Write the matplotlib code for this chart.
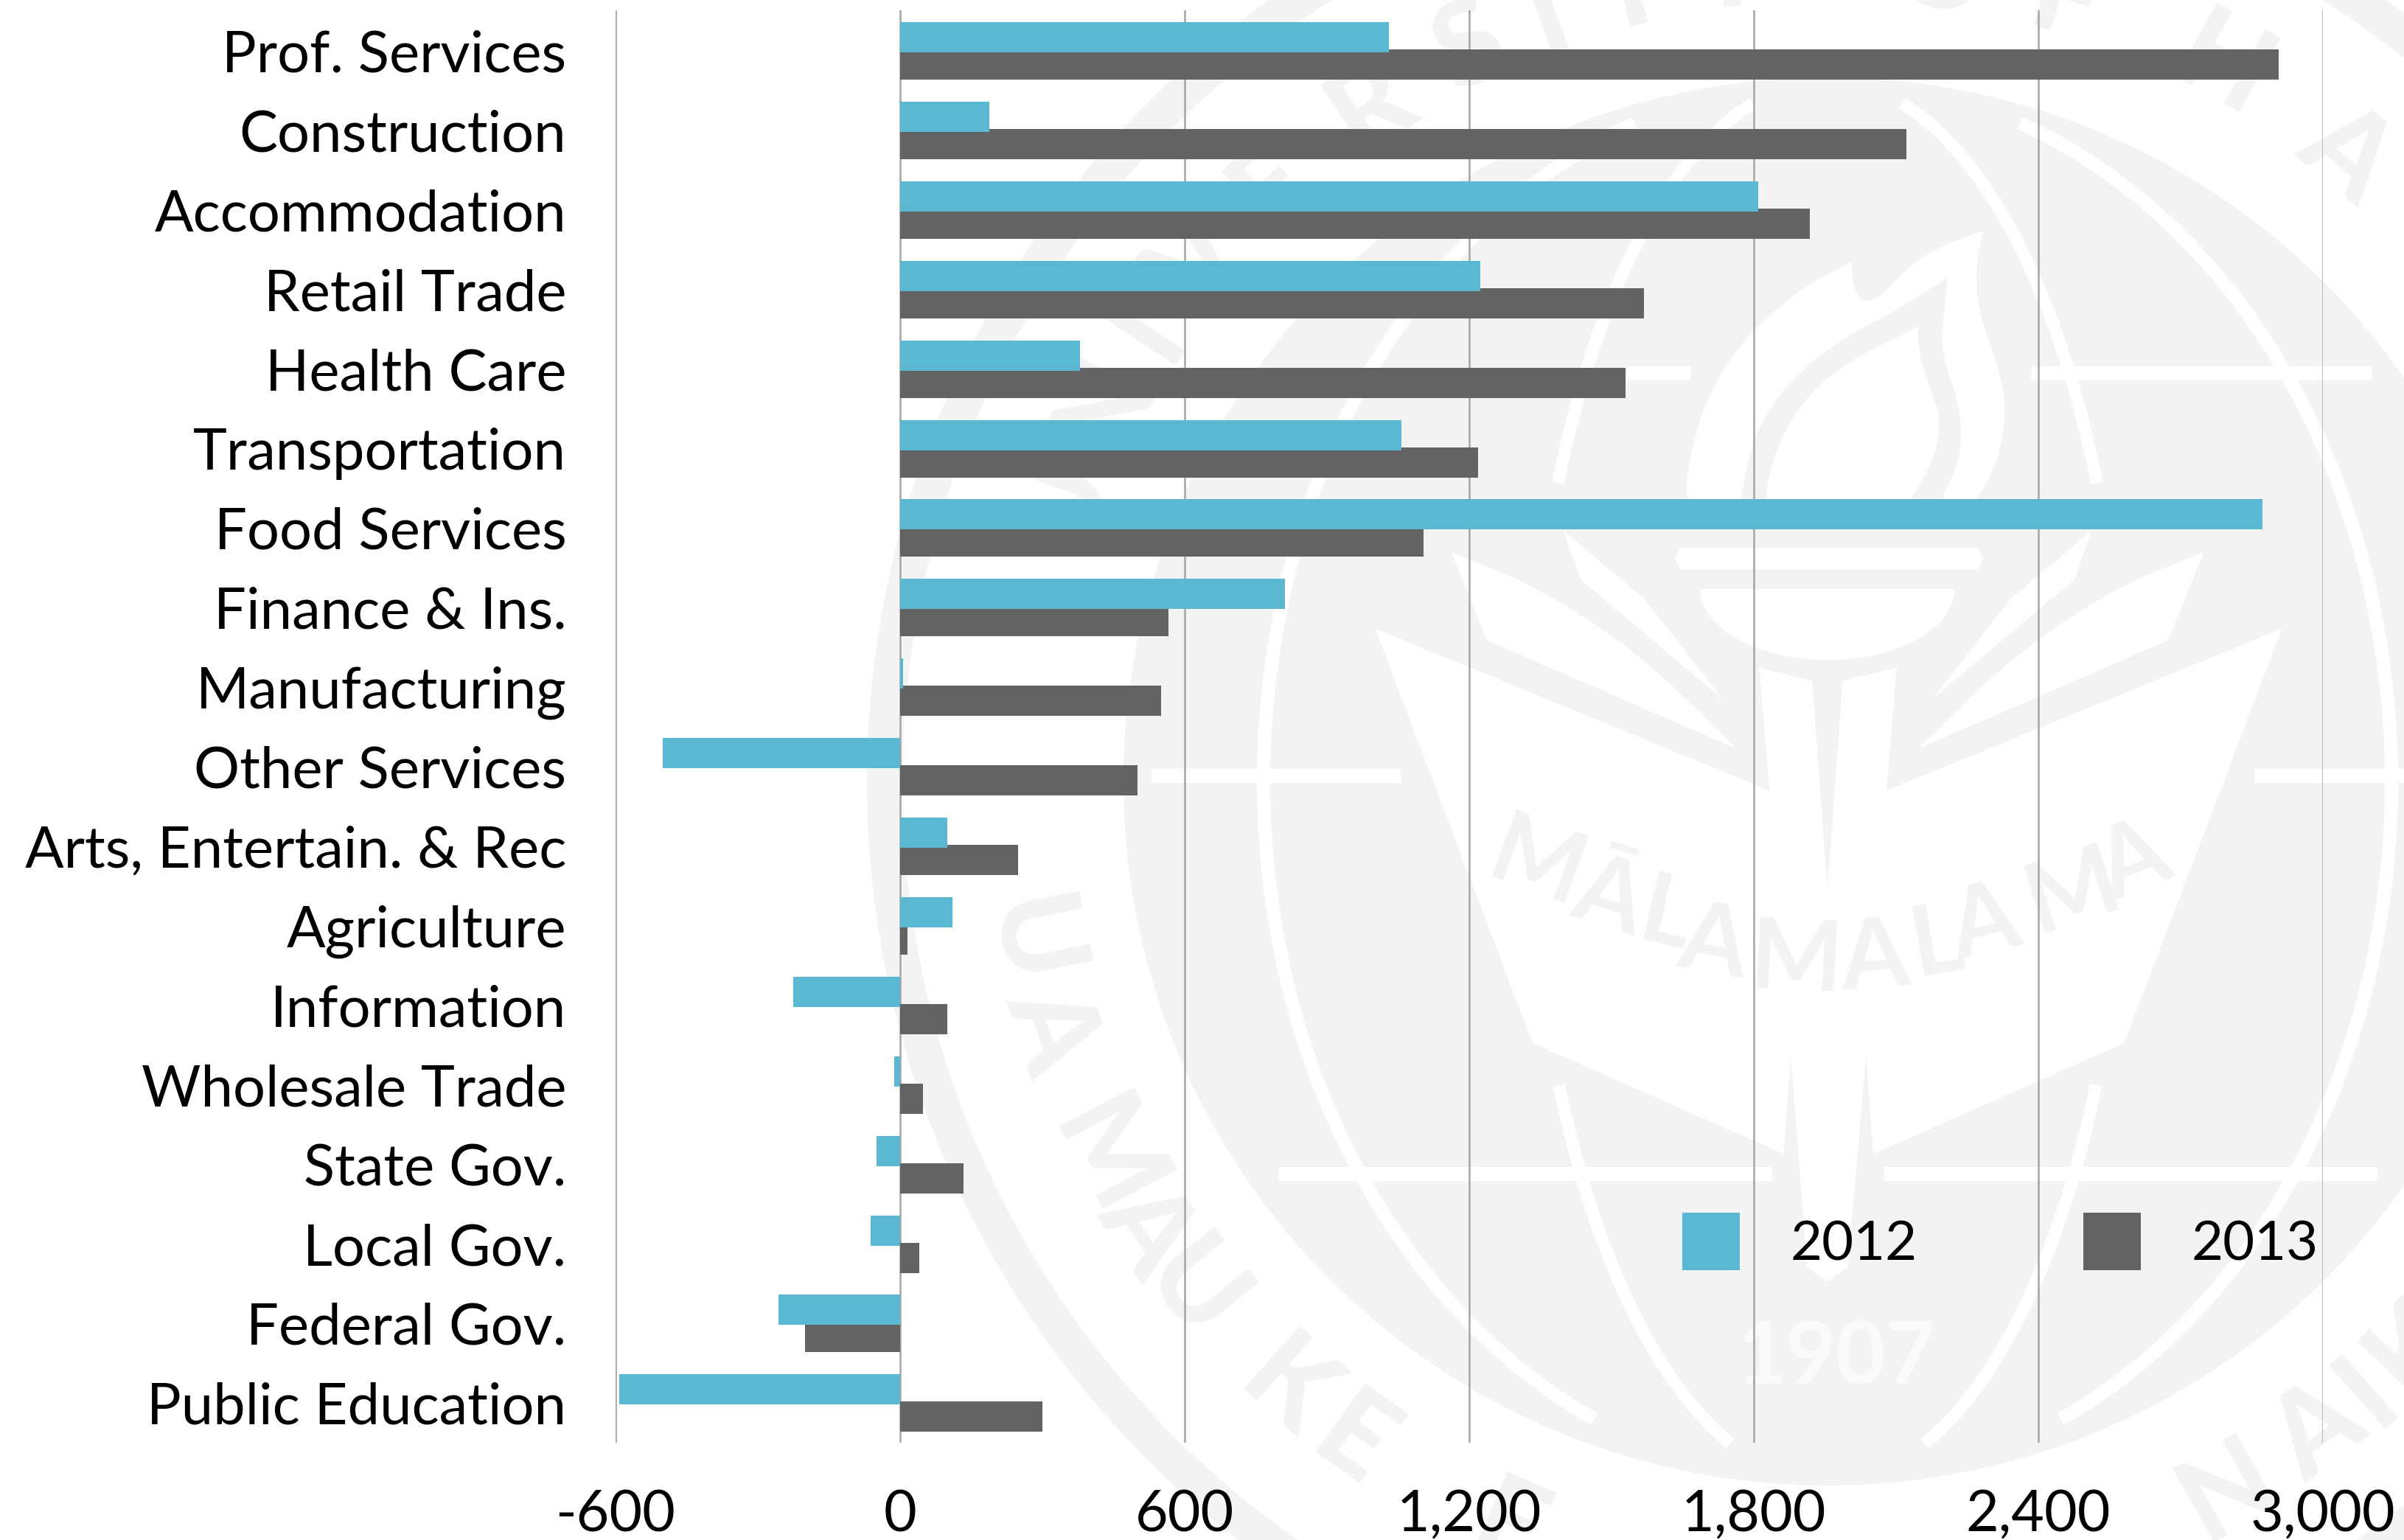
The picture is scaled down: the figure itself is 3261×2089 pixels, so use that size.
import math
import matplotlib
matplotlib.use("Agg")
import matplotlib.pyplot as plt
import numpy as np
from matplotlib.patches import Circle, Polygon

FONT = "Lato"
plt.rcParams["font.family"] = [FONT, "DejaVu Sans"]

categories = ["Prof. Services", "Construction", "Accommodation", "Retail Trade", "Health Care",
              "Transportation", "Food Services", "Finance & Ins.", "Manufacturing", "Other Services",
              "Arts, Entertain. & Rec", "Agriculture", "Information", "Wholesale Trade", "State Gov.",
              "Local Gov.", "Federal Gov.", "Public Education"]
values_2012 = [1031, 188, 1809, 1224, 379, 1057, 2872, 812, 6, -501, 100, 110, -226, -13, -49, -62, -257, -593]
values_2013 = [2907, 2122, 1918, 1569, 1530, 1219, 1103, 566, 550, 501, 249, 16, 100, 48, 133, 40, -201, 300]
x_ticks = [-600, 0, 600, 1200, 1800, 2400, 3000]
x_labels = ["-600", "0", "600", "1,200", "1,800", "2,400", "3,000"]
series_names = ["2012", "2013"]

BLUE, GREY, GRID = "#5BB8D2", "#636363", "#A4A4A4"
WM = "#F3F3F3"
W, H = 3262, 2089
CX, CY = 2479, 1060

fig = plt.figure(figsize=(W / 100, H / 100), dpi=100, facecolor="white")

# ---- watermark seal, in pixel coordinates ----
bg = fig.add_axes([0, 0, 1, 1], zorder=0)
bg.set_xlim(0, W); bg.set_ylim(H, 0); bg.axis("off")


def Z(x, y):
    return (1100 + x / 0.7252, y / 0.7506)


def F(x, y):
    return (1800 + x / 1.12, 250 + y / 2.6133)


def chaikin(points, n=3):
    p = np.asarray(points, float)
    for _ in range(n):
        q = [p[0]]
        for a, b in zip(p[:-1], p[1:]):
            q.append(0.75 * a + 0.25 * b)
            q.append(0.25 * a + 0.75 * b)
        q.append(p[-1])
        p = np.array(q)
    return p


def curved(segments, conv, color="white"):
    pts = np.vstack([chaikin([conv(*q) for q in s]) for s in segments])
    bg.add_patch(Polygon(pts, closed=True, fc=color, ec="none"))


def poly(points, color="white", mirror=False):
    bg.add_patch(Polygon([Z(*p) for p in points], closed=True, fc=color, ec="none"))
    if mirror:
        bg.add_patch(Polygon([Z(2000 - p[0], p[1]) for p in points], closed=True, fc=color, ec="none"))


bg.add_patch(Circle((CX, CY), 1303, fc=WM, ec="none"))
bg.add_patch(Circle((CX, CY), 1255, fc="white", ec="none"))
bg.add_patch(Circle((CX, CY), 955, fc=WM, ec="none"))


def meridian(a, b, y0, y1, lw):
    ys = np.linspace(y0, y1, 200)
    xs = a * np.sqrt(np.clip(1 - ((ys - CY) / b) ** 2, 0, 1))
    bg.plot(CX + xs, ys, color="white", lw=lw, solid_capstyle="butt")
    bg.plot(CX - xs, ys, color="white", lw=lw, solid_capstyle="butt")


meridian(765, 950, 167, 1925, 13)
meridian(404, 950, 140, 655, 12)
meridian(404, 950, 1472, 1958, 12)

for y, segs in [(380, [(800, 865), (1200, 1535)]),
                (790, [(335, 580), (1420, 1568)]),
                (1195, [(460, 945), (1055, 1540)])]:
    for a, b in segs:
        x0, yy = Z(a, y)
        x1, _ = Z(b, y)
        bg.plot([x0, x1], [yy, yy], color="white", lw=14, solid_capstyle="butt")

# book with torch stem running through it
poly([(555, 640), (943, 805), (933, 680), (985, 693), (1000, 905), (1015, 693), (1068, 680),
      (1058, 805), (1447, 640), (1292, 1062), (1045, 1175), (1038, 1075), (1020, 1290), (1000, 1305),
      (980, 1290), (964, 1075), (957, 1175), (710, 1062)])
# bowl and bar
t = np.linspace(0, np.pi, 40)
poly([(1000 + 125 * np.cos(a), 600 + 72 * np.sin(a)) for a in t])
poly([(855, 558), (1148, 558), (1153, 569), (1148, 580), (855, 580), (850, 569)])
# leaves
curved([[(630, 562), (720, 600), (820, 670), (910, 762)], [(910, 762), (665, 652)], [(665, 652), (630, 562)]], Z)
curved([[(1370, 562), (1280, 600), (1180, 670), (1090, 762)], [(1090, 762), (1335, 652)], [(1335, 652), (1370, 562)]], Z)
poly([(740, 540), (820, 610), (897, 712), (757, 590)], mirror=True)
# flame: outer shape, grey band, inner tongue
curved([[(565, 1220), (545, 1110), (548, 1000), (570, 800), (610, 620), (660, 490), (720, 370), (797, 275)],
        [(797, 275), (800, 370), (815, 420), (840, 400), (880, 300), (930, 220), (997, 165)],
        [(997, 165), (985, 300), (990, 450), (1020, 650), (1033, 800), (1020, 980), (990, 1110), (950, 1220)]],
       F)
curved([[(943, 330), (870, 440), (780, 550), (700, 700), (650, 880), (628, 1110), (628, 1220)],
        [(628, 1220), (933, 1220)],
        [(933, 1220), (933, 1110), (955, 1020), (965, 900), (960, 780), (935, 600), (935, 500), (943, 330)]],
       F, color=WM)
curved([[(665, 1220), (665, 1110), (680, 950), (720, 770), (790, 630), (897, 505)],
        [(897, 505), (900, 620), (930, 800), (930, 900), (915, 1010), (888, 1110), (860, 1220)]],
       F)

# MALAMALAMA on the book
for ch, px, py, rot in [("M", 2084, 1174, -20), ("Ā", 2183, 1219, -17), ("L", 2260, 1245, -13), ("A", 2325, 1281, -10),
                        ("M", 2436, 1304, -3), ("A", 2543, 1301, 4), ("L", 2627, 1281, 10), ("A", 2692, 1254, 13),
                        ("M", 2811, 1210, 18), ("A", 2895, 1170, 22)]:
    bg.text(px, py, ch, color=WM, fontsize=96, fontweight="bold", rotation=rot,
            ha="center", va="center", rotation_mode="anchor")
bg.text(2491, 1843, "1907", color="#FAFAFA", fontsize=84, fontweight="bold", ha="center", va="center")

# ring lettering
R_TXT = 1105
top_letters = [("U", -160), ("N", -152.5), ("I", -146.5), ("V", -140.5), ("E", -133), ("R", -124), ("S", -116),
               ("I", -110), ("T", -104), ("Y", -97), ("O", -82), ("F", -73), ("H", -61), ("A", -50.4)]
bottom_letters = [("U", 168.6), ("A", 162.3), ("M", 152.4), ("A", 146.6), ("U", 141.2), ("K", 131.6), ("E", 125.6),
                  ("E", 113), ("N", 60.5), ("A", 53), ("I", 48.5), ("K", 44)]
for ch, phi in top_letters:
    a = math.radians(phi)
    bg.text(CX + R_TXT * math.cos(a), CY + R_TXT * math.sin(a), ch, color=WM, fontsize=114, fontweight=900,
            rotation=-(phi + 90), ha="center", va="center", rotation_mode="anchor", clip_on=True)
for ch, phi in bottom_letters:
    a = math.radians(phi)
    bg.text(CX + R_TXT * math.cos(a), CY + R_TXT * math.sin(a), ch, color=WM, fontsize=114, fontweight=900,
            rotation=90 - phi, ha="center", va="center", rotation_mode="anchor", clip_on=True)

# ---- chart ----
ax_l, ax_r = 835, 3151
ax_t, ax_b = 14, 1957
ax = fig.add_axes([ax_l / W, 1 - ax_b / H, (ax_r - ax_l) / W, (ax_b - ax_t) / H], zorder=1)
ax.patch.set_alpha(0)
y = np.arange(len(categories))
ax.barh(y + 0.1715, values_2013, height=0.38, color=GREY, zorder=3, label=series_names[1])
ax.barh(y - 0.1715, values_2012, height=0.38, color=BLUE, zorder=4, label=series_names[0])
ax.set_xlim(-600, 3000)
ax.set_ylim(17.497, -0.51)
ax.set_yticks(y)
ax.set_yticklabels(categories, fontsize=56, color="black")
ax.set_xticks(x_ticks)
ax.set_xticklabels(x_labels, fontsize=55.5, color="black")
ax.tick_params(axis="both", length=0)
ax.tick_params(axis="y", pad=48)
ax.tick_params(axis="x", pad=46)
ax.grid(axis="x", color=GRID, lw=1.8, zorder=1)
ax.set_axisbelow(True)
for s in ax.spines.values():
    s.set_visible(False)

handles, labels = ax.get_legend_handles_labels()
order = [1, 0]
leg = ax.legend([handles[i] for i in order], [labels[i] for i in order], ncol=2, frameon=False, fontsize=53.5,
                loc="lower left", bbox_to_anchor=(2282 / W, 1 - 1723 / H), bbox_transform=fig.transFigure,
                borderpad=0, borderaxespad=0, handlelength=1.05, handleheight=1.235,
                handletextpad=0.92, columnspacing=3.03)

fig.savefig("out.png", dpi=100, facecolor="white")
